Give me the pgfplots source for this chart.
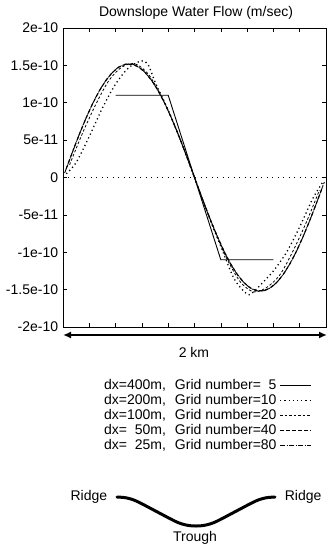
\documentclass[border=0pt]{standalone}
\usepackage{pgfplots}
\pgfplotsset{compat=1.18}
\usepackage{fontspec}
\setmainfont{Liberation Sans}
\usetikzlibrary{arrows.meta}
\begin{document}
\fontsize{14}{16}\selectfont
\begin{tikzpicture}
\useasboundingbox (0pt,0pt) rectangle (328pt,-545pt);
\node at (196pt,-13pt) {Downslope Water Flow (m/sec)};
\begin{axis}[
  at={(63pt,-327pt)}, anchor=south west, scale only axis,
  width=263pt, height=299pt,
  xmin=0, xmax=2000, ymin=-2, ymax=2,
  xtick={200,400,600,800,1000,1200,1400,1600,1800}, xticklabels={},
  ytick={-2,-1.5,-1,-0.5,0,0.5,1,1.5,2},
  yticklabels={-2e-10,-1.5e-10,-1e-10,-5e-11,0,5e-11,1e-10,1.5e-10,2e-10},
  tick align=inside, major tick length=4pt,
  tick style={black, line width=0.6pt},
  axis line style={line width=0.8pt},
  legend plot pos=right,
  legend cell align=right,
  legend style={at={(axis description cs:0.947,-0.171)}, anchor=north east,
    draw=none, fill=none, inner sep=0pt, row sep=0pt, column sep=2pt,
    nodes={inner sep=1pt, text height=10pt, text depth=3pt}},
  legend image code/.code={\draw[#1] (0pt,0pt) -- (31pt,0pt);},
]
% dx=400m
\addplot[black, line width=0.9pt] coordinates {(400,1.1) (800,1.1) (1200,-1.1) (1600,-1.1)};
\addlegendentry{dx=400m,\hspace{9pt}Grid number=\phantom{1}5}
% dx=200m
\addplot[black, line width=1.3pt, dash pattern=on 1.2pt off 3pt, smooth] coordinates {
(25,0.05) (100,0.20) (200,0.55) (300,0.93) (400,1.25) (500,1.47) (600,1.56) (650,1.50)
(700,1.28) (800,0.90) (900,0.47) (1000,0) (1100,-0.48) (1200,-0.92) (1300,-1.35)
(1400,-1.56) (1450,-1.53) (1500,-1.44) (1600,-1.25) (1700,-1.00) (1800,-0.66) (1900,-0.28) (1980,-0.05)};
\addlegendentry{dx=200m,\hspace{9pt}Grid number=10}
% dx=100m
\addplot[black, line width=0.8pt, dash pattern=on 2.5pt off 2pt, smooth] coordinates {
(50,0.17) (150,0.60) (250,0.98) (350,1.30) (450,1.48) (550,1.52) (650,1.38) (750,1.08)
(850,0.69) (950,0.24) (1050,-0.24) (1150,-0.70) (1250,-1.10) (1350,-1.40) (1450,-1.53)
(1550,-1.47) (1650,-1.30) (1750,-0.98) (1850,-0.60) (1950,-0.17)};
\addlegendentry{dx=100m,\hspace{9pt}Grid number=20}
% dx=50m
\addplot[black, line width=1.1pt, dash pattern=on 4pt off 2pt] coordinates {
(25,0.119) (75,0.355) (125,0.582) (175,0.794) (225,0.987) (275,1.156) (325,1.296) (375,1.404) (425,1.478) (475,1.515)
(525,1.515) (575,1.478) (625,1.404) (675,1.296) (725,1.156) (775,0.987) (825,0.794) (875,0.582) (925,0.355) (975,0.119)
(1025,-0.119) (1075,-0.355) (1125,-0.582) (1175,-0.794) (1225,-0.987) (1275,-1.156) (1325,-1.296) (1375,-1.404) (1425,-1.478) (1475,-1.515)
(1525,-1.515) (1575,-1.478) (1625,-1.404) (1675,-1.296) (1725,-1.156) (1775,-0.987) (1825,-0.794) (1875,-0.582) (1925,-0.355) (1975,-0.119)};
\addlegendentry{dx=\phantom{0}50m,\hspace{9pt}Grid number=40}
% dx=25m
\addplot[black, line width=0.9pt, dash pattern=on 5pt off 1.5pt on 1pt off 1.5pt] coordinates {
(12.5,0.060) (37.5,0.179) (62.5,0.297) (87.5,0.413) (112.5,0.526) (137.5,0.636) (162.5,0.743) (187.5,0.845) (212.5,0.941) (237.5,1.032)
(262.5,1.116) (287.5,1.194) (312.5,1.264) (337.5,1.326) (362.5,1.380) (387.5,1.426) (412.5,1.463) (437.5,1.491) (462.5,1.510) (487.5,1.519)
(512.5,1.519) (537.5,1.510) (562.5,1.491) (587.5,1.463) (612.5,1.426) (637.5,1.380) (662.5,1.326) (687.5,1.264) (712.5,1.194) (737.5,1.116)
(762.5,1.032) (787.5,0.941) (812.5,0.845) (837.5,0.743) (862.5,0.636) (887.5,0.526) (912.5,0.413) (937.5,0.297) (962.5,0.179) (987.5,0.060)
(1012.5,-0.060) (1037.5,-0.179) (1062.5,-0.297) (1087.5,-0.413) (1112.5,-0.526) (1137.5,-0.636) (1162.5,-0.743) (1187.5,-0.845) (1212.5,-0.941) (1237.5,-1.032)
(1262.5,-1.116) (1287.5,-1.194) (1312.5,-1.264) (1337.5,-1.326) (1362.5,-1.380) (1387.5,-1.426) (1412.5,-1.463) (1437.5,-1.491) (1462.5,-1.510) (1487.5,-1.519)
(1512.5,-1.519) (1537.5,-1.510) (1562.5,-1.491) (1587.5,-1.463) (1612.5,-1.426) (1637.5,-1.380) (1662.5,-1.326) (1687.5,-1.264) (1712.5,-1.194) (1737.5,-1.116)
(1762.5,-1.032) (1787.5,-0.941) (1812.5,-0.845) (1837.5,-0.743) (1862.5,-0.636) (1887.5,-0.526) (1912.5,-0.413) (1937.5,-0.297) (1962.5,-0.179) (1987.5,-0.060)};
\addlegendentry{dx=\phantom{0}25m,\hspace{9pt}Grid number=80}
% zero line
\addplot[black, line width=0.8pt, dash pattern=on 1pt off 4.5pt, forget plot] coordinates {(0,0) (2000,0)};
\end{axis}
\draw[{Latex[length=8pt,width=7pt]}-{Latex[length=8pt,width=7pt]}, line width=2.4pt] (63pt,-335pt) -- (327pt,-335pt);
\node at (194pt,-352pt) {2 km};
\begin{axis}[
  at={(117pt,-526pt)}, anchor=south west, scale only axis,
  width=158pt, height=29pt, axis lines=none,
  xmin=0, xmax=1, ymin=0, ymax=1, clip=false,
]
\addplot[black, line width=3pt, smooth, line cap=round] coordinates {
(0,1) (0.06,0.97) (0.125,0.854) (0.25,0.5) (0.375,0.146) (0.44,0.03) (0.5,0) (0.56,0.03) (0.625,0.146) (0.75,0.5) (0.875,0.854) (0.94,0.97) (1,1)};
\end{axis}
\node[anchor=east] at (112pt,-497pt) {Ridge};
\node[anchor=west] at (280pt,-497pt) {Ridge};
\node[anchor=base, inner sep=0pt] at (195pt,-541pt) {Trough};
\end{tikzpicture}
\end{document}
